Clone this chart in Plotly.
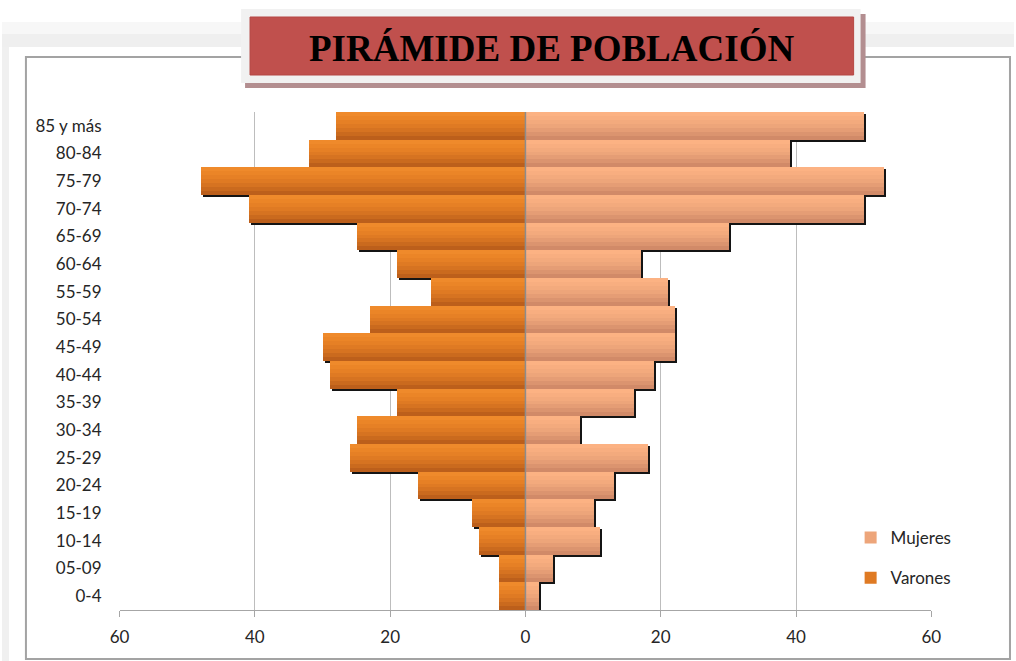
import plotly.graph_objects as go

# ---------------- data ----------------
age_groups = ["0-4", "05-09", "10-14", "15-19", "20-24", "25-29", "30-34", "35-39",
              "40-44", "45-49", "50-54", "55-59", "60-64", "65-69", "70-74", "75-79",
              "80-84", "85 y más"]
varones = [4, 4, 7, 8, 16, 26, 25, 19, 29, 30, 23, 14, 19, 25, 41, 48, 32, 28]
mujeres = [2, 4, 11, 10, 13, 18, 8, 16, 19, 22, 22, 21, 17, 30, 50, 53, 39, 50]
x_tickvals = [-60, -40, -20, 0, 20, 40, 60]
x_ticktext = ["60", "40", "20", "0", "20", "40", "60"]
title_text = "PIRÁMIDE DE POBLACIÓN"
series_names = ["Mujeres", "Varones"]

W, H = 1016, 661
# plot area in pixels
PL, PR, PT, PB = 118, 933, 112, 610
# horizontal paper area as observed in the renderer
PX0, PXW = 8, 1000


def px(x):
    return (x - PX0) / PXW


def py(y):
    return 1 - y / H


varones_neg = [-v for v in varones]

# gradient bands (bottom -> top)
var_cols = ["#BC5F1B", "#CA6A1E", "#D67321", "#DF7A23", "#E68025", "#EB8527", "#EF8A2B"]
muj_cols = ["#D18A68", "#DB946F", "#E59D75", "#EDA57A", "#F3AA7D", "#F8AE80", "#FCB283"]
N = len(var_cols)

# shadow offset in data units (2 px right, 2 px down)
ux = 120 / (PR - PL)
uy = 18 / (PB - PT)
sx = 2 * ux
sy = 2 * uy

fig = go.Figure()

# transparent trace so the main (grid / tick) subplot is registered
fig.add_trace(go.Bar(y=age_groups, x=mujeres, orientation="h", width=1.0,
                     marker=dict(color="rgba(0,0,0,0)", line=dict(width=0)),
                     xaxis="x", yaxis="y", showlegend=False, hoverinfo="skip"))

# shadows (subplot 2)
for vals in (varones_neg, mujeres):
    fig.add_trace(go.Bar(y=age_groups, x=vals, orientation="h", width=1.0,
                         marker=dict(color="#141414", line=dict(width=0)),
                         xaxis="x2", yaxis="y2", showlegend=False, hoverinfo="skip"))

# main bars with gradient (subplot 3)
for vals, cols, name, rank in ((varones_neg, var_cols, series_names[1], 2),
                               (mujeres, muj_cols, series_names[0], 1)):
    for k, c in enumerate(cols):
        w = 1.0 - k / N
        fig.add_trace(go.Bar(y=age_groups, x=vals, orientation="h", width=w,
                             offset=-0.5 + k / N,
                             marker=dict(color=c, line=dict(width=0)),
                             xaxis="x3", yaxis="y3",
                             name=name, legendgroup=name, legendrank=rank,
                             showlegend=(k == 3), hoverinfo="skip"))

xdom = [px(PL), px(PR)]
ydom = [py(PB), py(PT)]
tickfont = dict(family="Lato, 'Noto Sans', sans-serif", size=17, color="#262626")

fig.update_layout(
    width=W, height=H,
    autosize=False,
    margin=dict(l=0, r=0, t=0, b=0),
    paper_bgcolor="white", plot_bgcolor="rgba(0,0,0,0)",
    barmode="overlay", bargap=0,
    xaxis=dict(domain=xdom, range=[-60, 60], tickvals=x_tickvals, ticktext=x_ticktext,
               showgrid=True, gridcolor="#BDBDBD", gridwidth=1, zeroline=False,
               showline=True, linecolor="#A6A6A6", linewidth=1,
               ticks="outside", ticklen=6, tickcolor="#A6A6A6",
               tickfont=tickfont, ticklabelstandoff=6, anchor="y", fixedrange=True),
    yaxis=dict(domain=ydom, type="category", categoryorder="array", categoryarray=age_groups,
               range=[-0.5, len(age_groups) - 0.5], showgrid=False, zeroline=False,
               showline=False, ticks="", tickfont=tickfont, ticklabelstandoff=17,
               anchor="x", fixedrange=True),
    xaxis2=dict(domain=xdom, range=[-60 - sx, 60 - sx], visible=False, anchor="y2"),
    yaxis2=dict(domain=ydom, type="category", categoryorder="array", categoryarray=age_groups,
                range=[-0.5 + sy, len(age_groups) - 0.5 + sy], visible=False, anchor="x2"),
    xaxis3=dict(domain=xdom, range=[-60, 60], visible=False, anchor="y3"),
    yaxis3=dict(domain=ydom, type="category", categoryorder="array", categoryarray=age_groups,
                range=[-0.5, len(age_groups) - 0.5], visible=False, anchor="x3"),
    legend=dict(x=px(852), y=py(520), xanchor="left", yanchor="top",
                bgcolor="white", borderwidth=0, traceorder="grouped",
                tracegroupgap=15, font=dict(family="Lato, 'Noto Sans', sans-serif",
                                            size=17, color="#262626")),
    showlegend=True,
)

shapes = []
# page background gradient at top & left
shapes.append(dict(type="rect", xref="paper", yref="paper", x0=px(0), x1=px(W), y0=py(47),
                   y1=py(22), fillcolor="#F7F7F7", line=dict(width=0), layer="below"))
shapes.append(dict(type="rect", xref="paper", yref="paper", x0=px(0), x1=px(W), y0=py(47),
                   y1=py(34), fillcolor="#EFEFEF", line=dict(width=0), layer="below"))
shapes.append(dict(type="rect", xref="paper", yref="paper", x0=px(0), x1=px(7), y0=0,
                   y1=py(47), fillcolor="#F0F0F0", line=dict(width=0), layer="below"))
# chart border
shapes.append(dict(type="rect", xref="paper", yref="paper", x0=px(24), x1=px(1012),
                   y0=py(659), y1=py(57), line=dict(color="#A3A3A3", width=2),
                   fillcolor="rgba(0,0,0,0)", layer="below"))
# zero line above bars
shapes.append(dict(type="line", xref="x3", yref="paper", x0=0, x1=0, y0=py(PB), y1=py(PT),
                   line=dict(color="#8C8C8C", width=1.5), layer="above"))
# title box: shadow, outer frame, red panel
shapes.append(dict(type="rect", xref="paper", yref="paper", x0=px(244), x1=px(867),
                   y0=py(88), y1=py(14), fillcolor="#B38E90", line=dict(width=0), layer="above"))
shapes.append(dict(type="rect", xref="paper", yref="paper", x0=px(240), x1=px(862),
                   y0=py(83), y1=py(9), fillcolor="#F1F1F1", line=dict(width=0), layer="above"))
shapes.append(dict(type="rect", xref="paper", yref="paper", x0=px(249), x1=px(855),
                   y0=py(75), y1=py(17), fillcolor="#C0504D",
                   line=dict(color="#B54744", width=1), layer="above"))
fig.update_layout(shapes=shapes)

fig.add_annotation(text="<b>" + title_text + "</b>", xref="paper", yref="paper",
                   x=px(552), y=py(48), xanchor="center", yanchor="middle", showarrow=False,
                   font=dict(family="'Liberation Serif', 'DejaVu Serif', serif", size=37,
                             color="#000000"))

fig.write_html("out.html",
               config={"responsive": False, "displayModeBar": False},
               post_script="document.body.style.margin='0';"
                           "document.body.style.overflow='hidden';"
                           "document.documentElement.style.overflow='hidden';")
